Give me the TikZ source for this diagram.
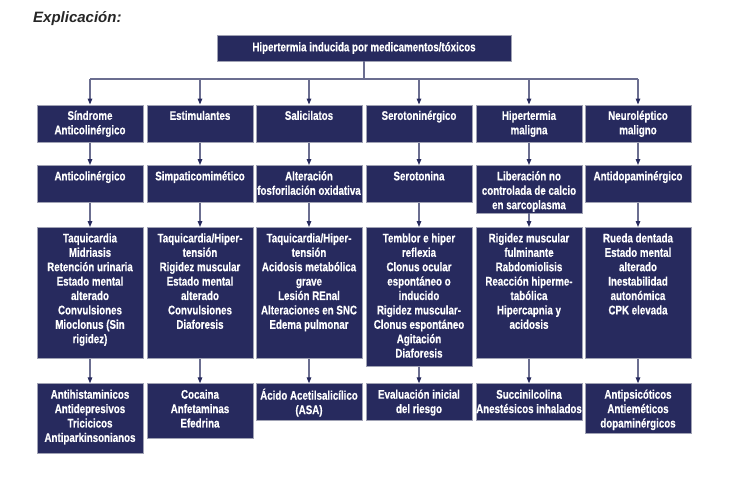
\documentclass[tikz,border=0pt]{standalone}
\usepackage{fontspec}
\setmainfont{Liberation Sans}
\newfontfamily\boxfont{Liberation Sans}[FakeStretch=0.78,BoldFeatures={FakeBold=0.4}]
\usetikzlibrary{arrows.meta}
\definecolor{navy}{HTML}{272A5E}
\definecolor{wire}{HTML}{6B6E90}
\definecolor{rim}{HTML}{A0A2B4}
\tikzset{
  boxtext/.style={text=white, font=\boxfont\bfseries\fontsize{12.5}{14.4}\selectfont},
  cell/.style={boxtext, draw=rim, line width=0.6pt, fill=navy, inner xsep=0pt, inner ysep=5pt, anchor=north,
    execute at begin node={\begin{minipage}[t][#1][t]{106pt}\centering\strut},
    execute at end node={\end{minipage}}},
  head/.style={boxtext, draw=rim, line width=0.6pt, fill=navy, inner sep=0pt, minimum width=294pt, minimum height=26pt},
  wireline/.style={draw=wire, line width=1.1pt},
  link/.style={wireline, -{Triangle[length=6pt,width=4.6pt,color=navy]}}
}
\begin{document}
\begin{tikzpicture}[x=1pt,y=-1pt]
\useasboundingbox (0,0) rectangle (751,483);
\node[anchor=west, inner sep=0pt, text=black!85, font=\bfseries\itshape\fontsize{15}{18}\selectfont] (title) at (33,19) {Explicación:};
\node[head] (top) at (364,48) {Hipertermia inducida por medicamentos/tóxicos};
% tipos
\node[cell=27.5pt] (s1) at (90,104.5) {Síndrome\\Anticolinérgico};
\node[cell=27.5pt] (s2) at (200,104.5) {Estimulantes};
\node[cell=27.5pt] (s3) at (309,104.5) {Salicilatos};
\node[cell=27.5pt] (s4) at (419,104.5) {Serotoninérgico};
\node[cell=27.5pt] (s5) at (529,104.5) {Hipertermia\\maligna};
\node[cell=27.5pt] (s6) at (638,104.5) {Neuroléptico\\maligno};
% mecanismo
\node[cell=27.3pt] (m1) at (90,165) {Anticolinérgico};
\node[cell=27.3pt] (m2) at (200,165) {Simpaticomimético};
\node[cell=27.3pt] (m3) at (309,165) {Alteración\\fosforilación oxidativa};
\node[cell=27.3pt] (m4) at (419,165) {Serotonina};
\node[cell=37.5pt] (m5) at (529,165) {Liberación no\\controlada de calcio\\en sarcoplasma};
\node[cell=27.3pt] (m6) at (638,165) {Antidopaminérgico};
% clinica
\node[cell=121.3pt] (c1) at (90,227) {Taquicardia\\Midriasis\\Retención urinaria\\Estado mental\\alterado\\Convulsiones\\Mioclonus (Sin\\rigidez)};
\node[cell=121.3pt] (c2) at (200,227) {Taquicardia/Hiper-\\tensión\\Rigidez muscular\\Estado mental\\alterado\\Convulsiones\\Diaforesis};
\node[cell=121.3pt] (c3) at (309,227) {Taquicardia/Hiper-\\tensión\\Acidosis metabólica\\grave\\Lesión REnal\\Alteraciones en SNC\\Edema pulmonar};
\node[cell=129pt] (c4) at (419,227) {Temblor e hiper\\reflexia\\Clonus ocular\\espontáneo o\\inducido\\Rigidez muscular-\\Clonus espontáneo\\Agitación\\Diaforesis};
\node[cell=121.3pt] (c5) at (529,227) {Rigidez muscular\\fulminante\\Rabdomiolisis\\Reacción hiperme-\\tabólica\\Hipercapnia y\\acidosis};
\node[cell=121.3pt] (c6) at (638,227) {Rueda dentada\\Estado mental\\alterado\\Inestabilidad\\autonómica\\CPK elevada};
% agentes
\node[cell=59.4pt] (a1) at (90,383.3) {Antihistaminicos\\Antidepresivos\\Tricicicos\\Antiparkinsonianos};
\node[cell=44.4pt] (a2) at (200,383.3) {Cocaina\\Anfetaminas\\Efedrina};
\node[cell=26.7pt] (a3) at (309,383.3) {Ácido Acetilsalicílico\\(ASA)};
\node[cell=26.7pt] (a4) at (419,383.3) {Evaluación inicial\\del riesgo};
\node[cell=26.7pt] (a5) at (529,383.3) {Succinilcolina\\\makebox[0pt]{Anestésicos inhalados}};
\node[cell=39.4pt] (a6) at (638,383.3) {Antipsicóticos\\Antieméticos\\dopaminérgicos};
% conectores
\coordinate (bus) at (364,79);
\draw[wireline] (top.south) -- (bus);
\draw[wireline] (s1.north |- bus) -- (s6.north |- bus);
\foreach \i in {1,...,6}{
  \draw[link] (s\i.north |- bus) -- (s\i.north);
  \draw[link] (s\i.south) -- (m\i.north);
  \draw[link] (m\i.south) -- (c\i.north);
  \draw[link] (c\i.south) -- (a\i.north);
}
\end{tikzpicture}
\end{document}
